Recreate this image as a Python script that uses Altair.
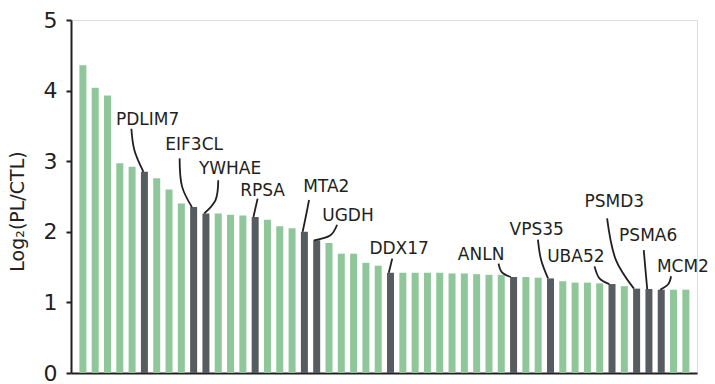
import altair as alt
import pandas as pd

# Log2(PL/CTL) values, sorted, one per protein (left to right)
values = [4.36, 4.04, 3.93, 2.97, 2.92, 2.85, 2.76, 2.60, 2.40, 2.35,
          2.26, 2.26, 2.24, 2.23, 2.21, 2.17, 2.08, 2.05, 2.00, 1.88,
          1.84, 1.69, 1.69, 1.56, 1.52, 1.42, 1.42, 1.42, 1.42, 1.42,
          1.41, 1.41, 1.40, 1.39, 1.39, 1.36, 1.36, 1.35, 1.34, 1.30,
          1.28, 1.28, 1.27, 1.26, 1.23, 1.195, 1.19, 1.18, 1.18, 1.18]

# highlighted (labelled) proteins and their bar position (1-based)
label_names = ["PDLIM7", "EIF3CL", "YWHAE", "RPSA", "MTA2", "UGDH", "DDX17",
               "ANLN", "VPS35", "UBA52", "PSMD3", "PSMA6", "MCM2"]
label_bars = [6, 10, 11, 15, 19, 20, 26, 36, 39, 44, 46, 47, 48]

# label anchor (data units: bar index, log2 value)
label_x = [6.26, 10.04, 12.96, 15.6, 20.78, 22.54, 26.70, 33.36, 37.88, 41.06, 44.18, 46.94, 49.76]
label_y = [3.51, 3.16, 2.82, 2.51, 2.56, 2.15, 1.69, 1.60, 1.95, 1.57, 2.35, 1.87, 1.43]

# leader lines: (start, middle, end) in data units
leader_x = [(4.94, 5.18, 5.92), (8.86, 9.06, 9.86), (12.0, 11.78, 10.86), (15.2, 15.03, 14.86),
            (19.38, 19.12, 18.86), (21.66, 21.12, 19.78), (26.14, 26.0, 25.86), (34.78, 35.04, 35.78),
            (37.98, 38.24, 38.8), (42.58, 42.98, 43.78), (43.6, 44.32, 45.78), (46.58, 46.72, 46.86),
            (48.8, 48.58, 47.92)]
leader_y = [(3.46, 3.16, 2.85), (3.04, 2.64, 2.35), (2.73, 2.45, 2.26), (2.47, 2.34, 2.21),
            (2.45, 2.22, 2.00), (2.10, 1.95, 1.88), (1.62, 1.52, 1.42), (1.55, 1.43, 1.36),
            (1.89, 1.60, 1.34), (1.51, 1.34, 1.26), (2.19, 1.60, 1.195), (1.74, 1.46, 1.19),
            (1.37, 1.26, 1.18)]

y_ticks = [0, 1, 2, 3, 4, 5]

GREEN = "#8fc79b"
DARK = "#565c60"
INK = "#231f20"
FONT = "DejaVu Sans"

bars_df = pd.DataFrame({
    "idx": list(range(1, len(values) + 1)),
    "value": values,
    "group": ["hit" if i in label_bars else "other" for i in range(1, len(values) + 1)],
})
text_df = pd.DataFrame({"name": label_names, "x": label_x, "y": label_y})
rows = []
for n, xs, ys in zip(label_names, leader_x, leader_y):
    for k, (a, b) in enumerate(zip(xs, ys)):
        rows.append({"name": n, "ord": k, "x": a, "y": b})
lead_df = pd.DataFrame(rows)

xscale = alt.Scale(domain=[0.44, 50.5], nice=False, zero=False)
yscale = alt.Scale(domain=[0, 5], nice=False)

bars = alt.Chart(bars_df).mark_bar(size=7).encode(
    x=alt.X("idx:Q", scale=xscale,
            axis=alt.Axis(labels=False, ticks=False, grid=False, title=None,
                          domainWidth=2, domainColor=INK)),
    y=alt.Y("value:Q", scale=yscale,
            axis=alt.Axis(values=y_ticks, format="d", grid=False, tickSize=5, tickWidth=2,
                          tickColor=INK, domainWidth=2, domainColor=INK,
                          labelFontSize=22, labelColor=INK, labelFont=FONT,
                          labelPadding=9,
                          title="Log₂(PL/CTL)", titleFont=FONT, titleFontSize=19,
                          titleFontWeight="normal", titleColor=INK,
                          titleX=-54, titleY=191, titleBaseline="middle",
                          titleAlign="center", titleAngle=270)),
    color=alt.Color("group:N", scale=alt.Scale(domain=["other", "hit"], range=[GREEN, DARK]),
                    legend=None),
)

leaders = alt.Chart(lead_df).mark_line(interpolate="catmull-rom", color=INK, strokeWidth=1.8).encode(
    x=alt.X("x:Q", scale=xscale),
    y=alt.Y("y:Q", scale=yscale),
    detail="name:N",
    order="ord:Q",
)

texts = alt.Chart(text_df).mark_text(align="center", baseline="alphabetic", fontSize=17,
                                     font=FONT, color=INK).encode(
    x=alt.X("x:Q", scale=xscale),
    y=alt.Y("y:Q", scale=yscale),
    text="name:N",
)

chart = alt.layer(bars, leaders, texts).properties(
    width=626, height=353,
    autosize=alt.AutoSizeParams(type="none"),
    padding={"left": 71, "top": 20, "right": 18, "bottom": 11},
).configure_view(stroke=None).configure(background="white")

chart.save("out.html", embed_options={"renderer": "svg", "actions": False})
